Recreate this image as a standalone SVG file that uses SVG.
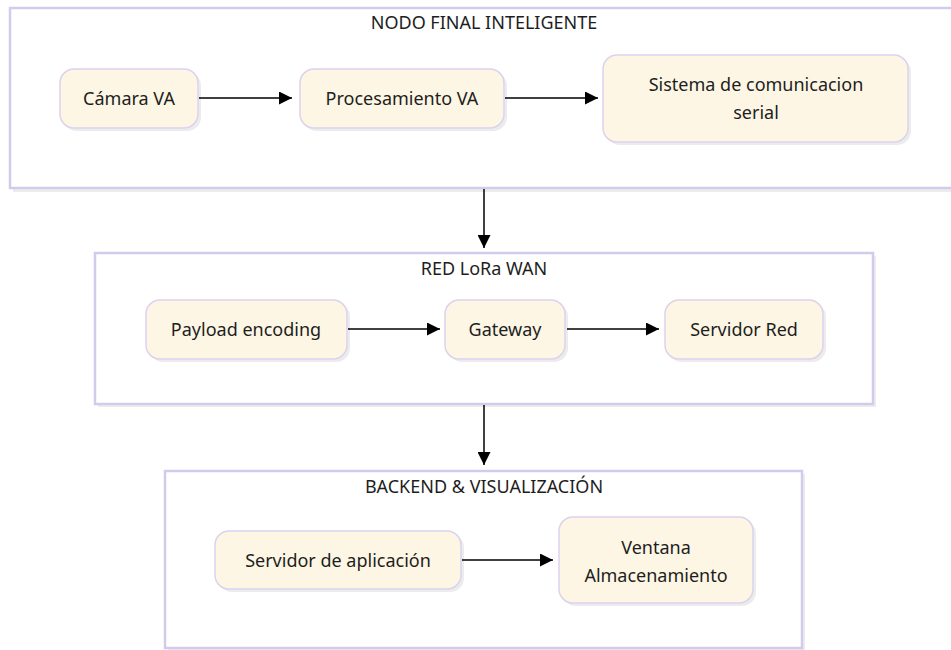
<svg xmlns="http://www.w3.org/2000/svg" width="951" height="650" viewBox="0 0 951 650">
<style>
.cl{fill:#ffffff;stroke:#d4caec;stroke-width:2.5}
.sh{fill:#ececec}
.nd{fill:#fdf6e4;stroke:#dcd2f0;stroke-width:1.5}
.t{font-family:"Noto Sans","DejaVu Sans",sans-serif;font-size:18px;fill:#1e1e1e;text-anchor:middle}
.e{stroke:#000;stroke-width:1.5;fill:none}
</style>
<defs>
<marker id="ah" viewBox="0 0 10 10" refX="10" refY="5" markerWidth="13" markerHeight="13" markerUnits="userSpaceOnUse" orient="auto">
<path d="M0,0 L10,5 L0,10 z" fill="#000"/>
</marker>
</defs>
<rect width="951" height="650" fill="#fff"/>

<g id="cluster-nodo">
<rect class="sh" x="13" y="11" width="950" height="181"/>
<rect class="cl" x="10" y="8" width="950" height="180"/>
<text class="t" x="484" y="29">NODO FINAL INTELIGENTE</text>
</g>
<g id="cluster-red">
<rect class="sh" x="98" y="256" width="778" height="151"/>
<rect class="cl" x="95" y="253" width="778" height="151"/>
<text class="t" x="484" y="275">RED LoRa WAN</text>
</g>
<g id="cluster-backend">
<rect class="sh" x="168" y="474" width="637" height="180"/>
<rect class="cl" x="165" y="471" width="637" height="177"/>
<text class="t" x="484" y="493">BACKEND &amp; VISUALIZACIÓN</text>
</g>

<g id="camara">
<rect class="sh" x="63" y="72" width="138" height="59" rx="14"/>
<rect class="nd" x="60" y="69" width="138" height="59" rx="14"/>
<text class="t" x="129" y="105">Cámara VA</text>
</g>
<g id="procesamiento">
<rect class="sh" x="303" y="72" width="204" height="59" rx="14"/>
<rect class="nd" x="300" y="69" width="204" height="59" rx="14"/>
<text class="t" x="402" y="105">Procesamiento VA</text>
</g>
<g id="sistema">
<rect class="sh" x="606" y="58" width="305" height="87" rx="14"/>
<rect class="nd" x="603" y="55" width="305" height="87" rx="14"/>
<text class="t" x="756" y="91">Sistema de comunicacion</text>
<text class="t" x="756" y="119">serial</text>
</g>
<g id="payload">
<rect class="sh" x="149" y="303" width="201" height="59" rx="14"/>
<rect class="nd" x="146" y="300" width="201" height="59" rx="14"/>
<text class="t" x="246" y="336">Payload encoding</text>
</g>
<g id="gateway">
<rect class="sh" x="448" y="303" width="120" height="59" rx="14"/>
<rect class="nd" x="445" y="300" width="120" height="59" rx="14"/>
<text class="t" x="505" y="336">Gateway</text>
</g>
<g id="servidor-red">
<rect class="sh" x="668" y="303" width="158" height="59" rx="14"/>
<rect class="nd" x="665" y="300" width="158" height="59" rx="14"/>
<text class="t" x="744" y="336">Servidor Red</text>
</g>
<g id="servidor-app">
<rect class="sh" x="218" y="534" width="246" height="58" rx="14"/>
<rect class="nd" x="215" y="531" width="246" height="58" rx="14"/>
<text class="t" x="338" y="567">Servidor de aplicación</text>
</g>
<g id="ventana">
<rect class="sh" x="562" y="520" width="194" height="86" rx="14"/>
<rect class="nd" x="559" y="517" width="194" height="86" rx="14"/>
<text class="t" x="656" y="554">Ventana</text>
<text class="t" x="656" y="582">Almacenamiento</text>
</g>

<g id="connectors">
<path class="e" d="M199,98 H292" marker-end="url(#ah)"/>
<path class="e" d="M505,98 H598" marker-end="url(#ah)"/>
<path class="e" d="M484,189 V248" marker-end="url(#ah)"/>
<path class="e" d="M348,329 H440" marker-end="url(#ah)"/>
<path class="e" d="M567,329 H659" marker-end="url(#ah)"/>
<path class="e" d="M484,405 V465" marker-end="url(#ah)"/>
<path class="e" d="M462,560 H553" marker-end="url(#ah)"/>
</g>
</svg>
